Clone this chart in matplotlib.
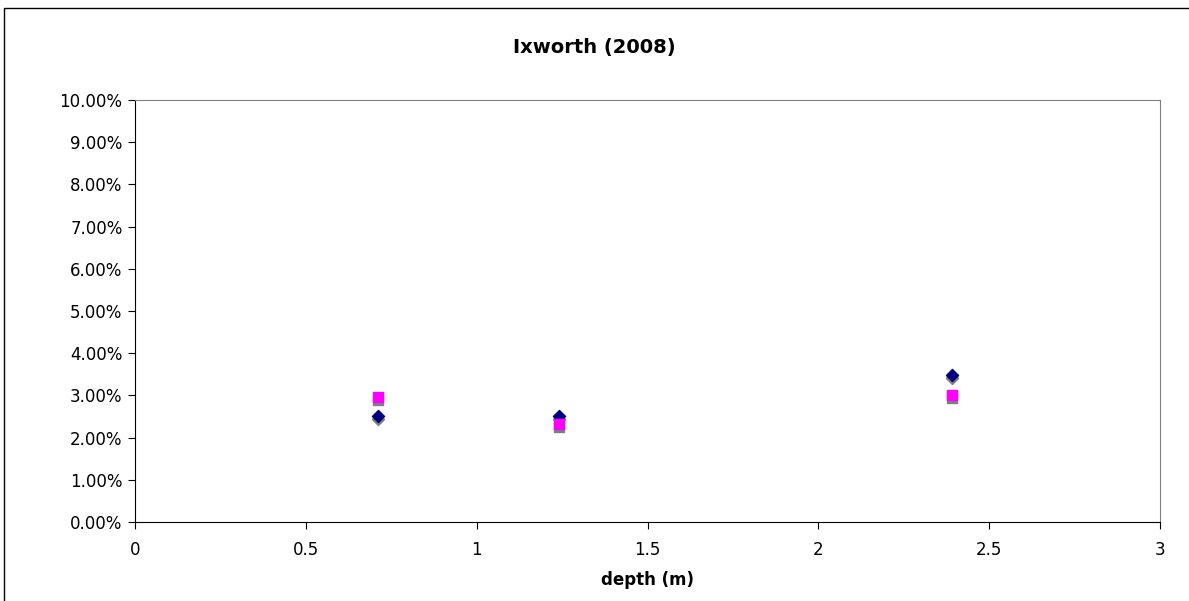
import matplotlib.pyplot as plt
from matplotlib.patches import Rectangle
from matplotlib.ticker import FuncFormatter, MultipleLocator

depth = [0.71, 1.24, 2.39]
navy_diamond = [0.0251, 0.0252, 0.0349]
grey_diamond = [0.0244, 0.0245, 0.0341]
grey_square = [0.0289, 0.0224, 0.0295]
pink_square = [0.0296, 0.0232, 0.0302]

fig = plt.figure(figsize=(11.89, 6.01), dpi=100)
ax = fig.add_axes([135 / 1189, 1 - 522 / 601, 1025 / 1189, 422 / 601])

# outer chart border
fig.patches.append(Rectangle((4 / 1189, -0.1), 1.2, 1 - 8 / 601 + 0.1,
                             transform=fig.transFigure, fill=False,
                             edgecolor="black", linewidth=1.0))

ax.scatter(depth, grey_diamond, marker="D", s=38, color="#808080", zorder=2)
ax.scatter(depth, navy_diamond, marker="D", s=38, color="#000080", zorder=3)
ax.scatter(depth, grey_square, marker="s", s=60, color="#808080", zorder=4)
ax.scatter(depth, pink_square, marker="s", s=60, color="#ff00ff", zorder=5)

ax.set_xlim(0, 3)
ax.set_ylim(0, 0.10)
ax.xaxis.set_major_locator(MultipleLocator(0.5))
ax.yaxis.set_major_locator(MultipleLocator(0.01))
ax.xaxis.set_major_formatter(FuncFormatter(lambda v, p: f"{v:g}"))
ax.yaxis.set_major_formatter(FuncFormatter(lambda v, p: f"{v * 100:.2f}%"))
ax.tick_params(direction="out", length=5, labelsize=12, pad=4)
ax.tick_params(axis="x", pad=9)

for side in ("top", "right"):
    ax.spines[side].set_color("#808080")
ax.spines["left"].set_color("black")
ax.spines["bottom"].set_color("black")

ax.set_xlabel("depth (m)", fontweight="bold", fontsize=12, labelpad=8)
fig.text(0.5, 1 - 47 / 601, "Ixworth (2008)", ha="center", va="center",
         fontweight="bold", fontsize=14)

fig.savefig("out.png", dpi=100)
